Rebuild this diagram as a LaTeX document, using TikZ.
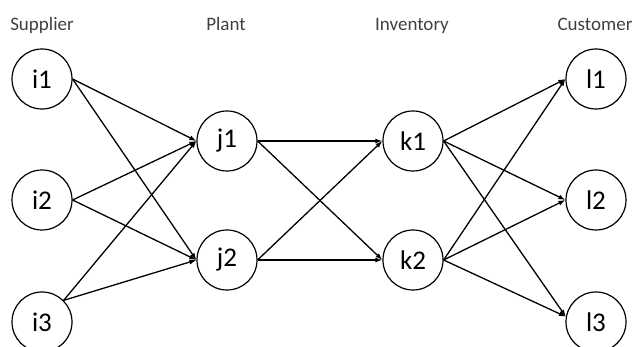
\documentclass[tikz,border=0pt]{standalone}
\usepackage{fontspec}
\setmainfont{Carlito}
\usetikzlibrary{arrows.meta}
\begin{document}
\begin{tikzpicture}[x=1pt,y=-1pt,
  site/.style={circle,draw,line width=1.2pt,minimum size=60pt,inner sep=0pt,font=\fontsize{27}{27}\selectfont},
  heading/.style={anchor=base,font=\fontsize{19}{19}\selectfont,text=black!75},
  flow/.style={line width=1.3pt,-{Latex[length=7pt,width=5pt]}}]
\useasboundingbox (0,0) rectangle (638,347);
% column titles
\node[heading] (hs) at (42,31) {Supplier};
\node[heading] (hp) at (226,31) {Plant};
\node[heading] (hi) at (412,31) {Inventory};
\node[heading] (hc) at (595,31) {Customer};
% nodes
\node[site] (i1) at (42,79) {i1};
\node[site] (i2) at (42,200) {i2};
\node[site] (i3) at (42,322) {i3};
\node[site] (j1) at (227,141) {j1};
\node[site] (j2) at (227,260) {j2};
\node[site] (k1) at (413,141) {k1};
\node[site] (k2) at (413,260) {k2};
\node[site] (l1) at (596,79) {l1};
\node[site] (l2) at (596,200) {l2};
\node[site] (l3) at (596,322) {l3};
% supplier -> plant
\draw[flow] (i1.east) -- (j1.west);
\draw[flow] (i1.east) -- (j2.west);
\draw[flow] (i2.east) -- (j1.west);
\draw[flow] (i2.east) -- (j2.west);
\draw[flow] (i3.45) -- (j1.west);
\draw[flow] (i3.45) -- (j2.west);
% plant -> inventory
\draw[flow] (j1.east) -- (k1.west);
\draw[flow] (j1.east) -- (k2.west);
\draw[flow] (j2.east) -- (k1.west);
\draw[flow] (j2.east) -- (k2.west);
% inventory -> customer
\draw[flow] (k1.east) -- (l1.west);
\draw[flow] (k1.east) -- (l2.west);
\draw[flow] (k1.east) -- (l3.170);
\draw[flow] (k2.east) -- (l1.west);
\draw[flow] (k2.east) -- (l2.west);
\draw[flow] (k2.east) -- (l3.170);
\end{tikzpicture}
\end{document}
